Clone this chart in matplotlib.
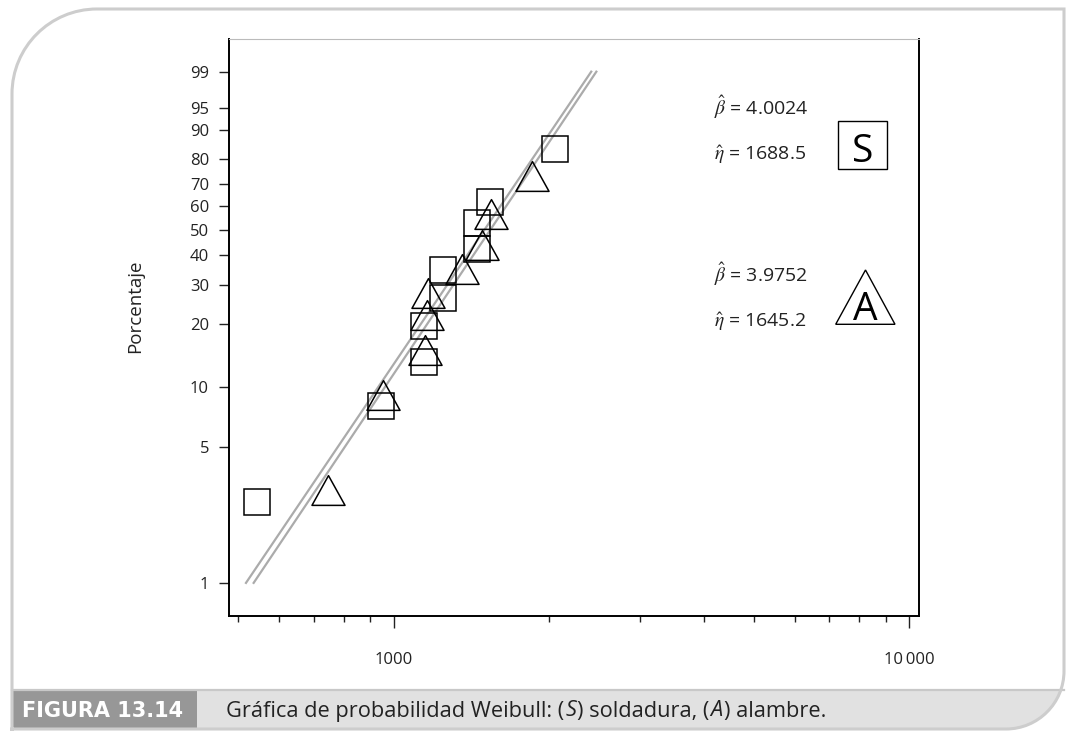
import numpy as np
import matplotlib
matplotlib.use('Agg')
import matplotlib.pyplot as plt
from matplotlib.patches import Rectangle, Polygon, PathPatch
from matplotlib.path import Path
from matplotlib.transforms import Affine2D
from matplotlib.ticker import NullLocator, NullFormatter

plt.rcParams['font.family'] = ['Open Sans', 'DejaVu Sans']
plt.rcParams['mathtext.fontset'] = 'stix'

# (S) soldadura
s_horas = [544, 945, 1145, 1147, 1245, 1245, 1449, 1449, 1537, 2055]
s_pct = [2.6, 8.0, 13.3, 19.6, 26.3, 34.7, 42.4, 53.0, 61.9, 83.8]
# (A) alambre
a_horas = [747, 952, 1152, 1159, 1164, 1355, 1485, 1546, 1856]
a_pct = [3.0, 9.1, 15.1, 22.0, 27.7, 35.1, 43.7, 56.7, 73.3]

# rectas ajustadas, extremos en 1 % y 99 %
fit_pct = [1, 99]
s_fit = [535, 2472]
a_fit = [517, 2416]

s_beta, s_eta = '4.0024', '1688.5'
a_beta, a_eta = '3.9752', '1645.2'

yticks = [1, 5, 10, 20, 30, 40, 50, 60, 70, 80, 90, 95, 99]
xticks = [1000, 10000]
xticklabels = ['1000', '10\u2009000']
xminor = [500, 600, 700, 800, 900, 2000, 3000, 4000, 5000, 6000, 7000, 8000, 9000]

W, H = 1066, 731
fig = plt.figure(figsize=(W / 100, H / 100), dpi=100)
# coordenadas en pixeles, y hacia abajo
px = Affine2D().scale(1 / W, -1 / H).translate(0, 1) + fig.transFigure


def fwd(p):
    p = np.clip(np.asarray(p, dtype=float), 1e-9, 100 - 1e-9)
    return np.log(-np.log(1 - p / 100))


def inv(w):
    return 100 * (1 - np.exp(-np.exp(w)))


# marco de la figura
k = 0.5523
r1, r2 = 85, 58
verts = [(12, 731), (12, 9 + r1), (12, 9 + r1 - r1 * k), (12 + r1 - r1 * k, 9), (12 + r1, 9),
         (1064, 9), (1064, 729 - r2), (1064, 729 - r2 + r2 * k), (1064 - r2 + r2 * k, 729), (1064 - r2, 729),
         (12, 729), (12, 731)]
codes = [Path.MOVETO, Path.LINETO, Path.CURVE4, Path.CURVE4, Path.CURVE4,
         Path.LINETO, Path.LINETO, Path.CURVE4, Path.CURVE4, Path.CURVE4,
         Path.LINETO, Path.CLOSEPOLY]
outline = PathPatch(Path(verts, codes), transform=px, fill=False, ec='#cdcdcd', lw=2.2, zorder=5)
clipper = PathPatch(Path(verts, codes), transform=px, fill=False, lw=0)
fig.add_artist(clipper)
clipper.set_visible(False)

band = Rectangle((12, 690), 1052, 41, transform=px, fc='#e1e1e1', ec='none', zorder=1)
fig.add_artist(band)
band.set_clip_path(clipper)
dark = Rectangle((12, 690), 185, 41, transform=px, fc='#979797', ec='none', zorder=2)
fig.add_artist(dark)
dark.set_clip_path(clipper)
fig.add_artist(plt.Line2D([12, 1064], [690, 690], transform=px, color='#c8c8c8', lw=1.6, zorder=3))
fig.add_artist(outline)

# ejes
ax = fig.add_axes([228.7 / W, 1 - 615.7 / H, (919 - 228.7) / W, (615.7 - 39) / H])
ax.set_xscale('log')
ax.set_yscale('function', functions=(fwd, inv))

ax.plot(s_fit, fit_pct, color='#ababab', lw=1.6, zorder=2)
ax.plot(a_fit, fit_pct, color='#ababab', lw=1.6, zorder=2)

tri = Path([(-1, -0.9), (1, -0.9), (0, 0.9), (-1, -0.9)],
           [Path.MOVETO, Path.LINETO, Path.LINETO, Path.CLOSEPOLY])
ax.plot(s_horas, s_pct, ls='none', marker='s', ms=19.4, mfc='none', mec='k', mew=1.1, zorder=3)
ax.plot(a_horas, a_pct, ls='none', marker=tri, ms=23.8, mfc='none', mec='k', mew=1.1, zorder=3)

ax.set_xlim(478.6, 10443)
ax.set_ylim(0.676, 99.89)

ax.set_yticks(yticks)
ax.set_yticklabels([str(t) for t in yticks])
ax.yaxis.set_minor_locator(NullLocator())
ax.set_xticks(xticks)
ax.set_xticklabels(xticklabels)
ax.set_xticks(xminor, minor=True)
ax.xaxis.set_minor_formatter(NullFormatter())

ax.tick_params(axis='y', length=7.2, width=1, pad=7, labelsize=12, colors='#222222')
ax.tick_params(axis='x', which='major', length=8.4, width=1, pad=18, labelsize=12, colors='#222222')
ax.tick_params(axis='x', which='minor', length=4, width=1, color='#222222')

for side in ['left', 'bottom', 'right']:
    ax.spines[side].set_linewidth(1.4)
    ax.spines[side].set_color('black')
ax.spines['top'].set_linewidth(0.8)
ax.spines['top'].set_color('#bbbbbb')

fig.text(135, 306, 'Porcentaje', transform=px, rotation=90, ha='center', va='center',
         fontsize=13.5, color='#222222')

# parametros estimados
fs = 14
fig.text(714, 115, r'$\hat{\beta}$ = ' + s_beta, transform=px, fontsize=fs, va='baseline', color='#222222')
fig.text(714, 160, r'$\hat{\eta}$ = ' + s_eta, transform=px, fontsize=fs, va='baseline', color='#222222')
fig.text(714, 282, r'$\hat{\beta}$ = ' + a_beta, transform=px, fontsize=fs, va='baseline', color='#222222')
fig.text(714, 327, r'$\hat{\eta}$ = ' + a_eta, transform=px, fontsize=fs, va='baseline', color='#222222')

fig.add_artist(Rectangle((838, 121), 49, 48, transform=px, fill=False, ec='k', lw=1))
fig.text(862.5, 161.5, 'S', transform=px, fontsize=28, ha='center', va='baseline')
fig.add_artist(Polygon([(835.7, 324.3), (895, 324.3), (865.5, 270)], closed=True, transform=px,
                       fill=False, ec='k', lw=1))
fig.text(865.7, 320, 'A', transform=px, fontsize=28, ha='center', va='baseline')

# pie de figura
fig.text(22, 711, 'FIGURA 13.14', transform=px, fontsize=15, weight='bold', color='white',
         family='DejaVu Sans', va='center', zorder=6)

renderer = fig.canvas.get_renderer()
x = 226
parts = [('Gráfica de probabilidad Weibull: (', 'normal'), ('S', 'italic'), (') soldadura, (', 'normal'),
         ('A', 'italic'), (') alambre.', 'normal')]
for s, st in parts:
    t = fig.text(x, 711, s, transform=px, fontsize=15.7, style=st, color='#222222', va='center', zorder=6)
    x += t.get_window_extent(renderer).width + 1

fig.savefig('out.png', dpi=100)
